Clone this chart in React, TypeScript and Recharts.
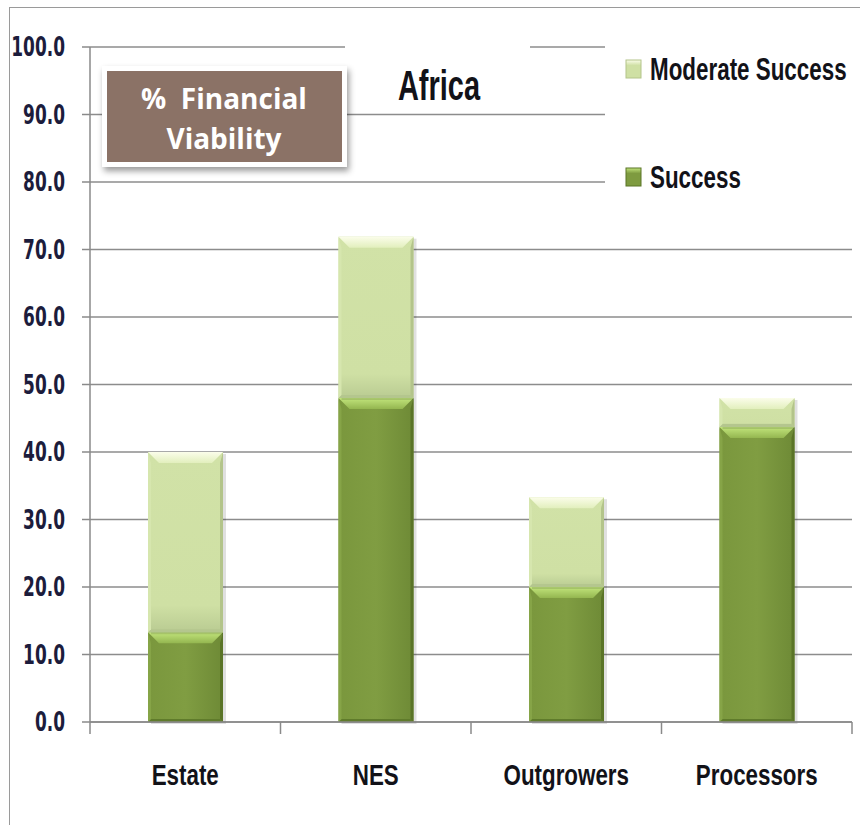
import React from 'react';
import { BarChart, Bar, XAxis, YAxis, CartesianGrid, Legend } from 'recharts';

const categories = ['Estate', 'NES', 'Outgrowers', 'Processors'];
const successValues = [13.3, 48.0, 20.0, 43.7];
const moderateValues = [26.7, 23.9, 13.3, 4.3];
const yTicks = [0, 10, 20, 30, 40, 50, 60, 70, 80, 90, 100];
const seriesNames = { success: 'Success', moderate: 'Moderate Success' };
const chartTitle = 'Africa';
const boxLines = ['%  Financial', 'Viability'];

const data = categories.map((c, i) => ({ name: c, success: successValues[i], moderate: moderateValues[i] }));

const palettes = {
  success: { main: '#7e9b40', dark: '#5a7427', top1: '#c2e57c', top2: '#94b650', bottom: '#5f7b2b', left: '#86a447' },
  moderate: { main: '#cfe0a4', dark: '#b3c48a', top1: '#fbfdea', top2: '#e2efbd', bottom: '#b4c68e', left: '#d6e6ae' },
};

const SANS = "'Liberation Sans', Arial, sans-serif";

function makeShape(key: 'success' | 'moderate') {
  const p = palettes[key];
  return (props: any) => {
    const { x, y, width: w, height: h } = props;
    if (!h || h <= 0) return null;
    const t = Math.min(11, h / 2.5);
    const s = 3;
    return (
      <g>
        <rect x={x + 3} y={y + 2} width={w} height={h} fill="rgba(0,0,0,0.12)" />
        <rect x={x} y={y} width={w} height={h} fill={`url(#grad-${key})`} />
        <polygon points={`${x},${y + h} ${x + w},${y + h} ${x + w - s},${y + h - s} ${x + s},${y + h - s}`} fill={p.bottom} />
        <polygon points={`${x + w},${y} ${x + w},${y + h} ${x + w - s},${y + h - s} ${x + w - s},${y + t}`} fill={p.dark} />
        <polygon points={`${x},${y} ${x},${y + h} ${x + s},${y + h - s} ${x + s},${y + t}`} fill={p.left} />
        <polygon points={`${x},${y} ${x + w},${y} ${x + w - t},${y + t} ${x + t},${y + t}`} fill={`url(#top-${key})`} />
      </g>
    );
  };
}

const SuccessShape = makeShape('success');
const ModerateShape = makeShape('moderate');

const XTick = (props: any) => {
  const { x, y, payload, index, visibleTicksCount } = props;
  const half = payload && payload.offset ? payload.offset : 95.25;
  const last = index === (visibleTicksCount ?? 4) - 1;
  return (
    <g>
      <line x1={x - half} x2={x - half} y1={y} y2={y + 12} stroke="#8a8a8a" strokeWidth={1.5} />
      {last && <line x1={x + half} x2={x + half} y1={y} y2={y + 12} stroke="#8a8a8a" strokeWidth={1.5} />}
      <text transform={`translate(${x},${y + 63}) scale(0.86,1.12)`} x={0} y={0} textAnchor="middle" fill="#121218" fontFamily={SANS} fontWeight="bold" fontSize={26}>
        {payload.value}
      </text>
    </g>
  );
};

const YTick = (props: any) => {
  const { x, y, payload } = props;
  return (
    <text transform={`translate(${x},${y}) scale(1,1.55)`} x={0} y={0} dy="0.36em" textAnchor="end" fill="#1c1c3c" fontFamily="'DejaVu Sans', Verdana, sans-serif" fontWeight="bold" fontSize={17}>
      {Number(payload.value).toFixed(1)}
    </text>
  );
};

const LegendContent = () => {
  const items: Array<'moderate' | 'success'> = ['moderate', 'success'];
  const baselines = [40, 148];
  return (
    <svg width={255} height={170} style={{ background: '#fff', display: 'block' }}>
      <defs>
        {items.map((k) => (
          <linearGradient key={k} id={`leg-${k}`} x1="0" y1="0" x2="0" y2="1">
            <stop offset="0" stopColor={palettes[k].top1} />
            <stop offset="0.3" stopColor={palettes[k].main} />
            <stop offset="1" stopColor={palettes[k].main} />
          </linearGradient>
        ))}
      </defs>
      {items.map((k, i) => (
        <g key={k}>
          <rect x={21} y={baselines[i] - 20} width={15} height={18} fill={`url(#leg-${k})`} stroke={palettes[k].dark} strokeWidth={1} />
          <text transform={`translate(45,${baselines[i]}) scale(0.7,1)`} x={0} y={0} fill="#121218" fontFamily={SANS} fontWeight="bold" fontSize={32}>
            {seriesNames[k]}
          </text>
        </g>
      ))}
    </svg>
  );
};

export default function App() {
  return (
    <div style={{ position: 'absolute', left: 0, top: 0, width: 860, height: 825, background: '#fff', overflow: 'hidden' }}>
      <div style={{ position: 'absolute', left: 9, top: 7, width: 860, height: 840, borderLeft: '1.5px solid #9a9a9a', borderTop: '1.5px solid #9a9a9a', boxSizing: 'border-box' }} />
      <BarChart width={860} height={825} data={data} margin={{ top: 47, right: 8, left: 10, bottom: 63 }} barSize={75}>
        <defs>
          <linearGradient id="grad-success" x1="0" y1="0" x2="1" y2="0">
            <stop offset="0" stopColor="#7a973d" />
            <stop offset="0.5" stopColor="#809d42" />
            <stop offset="1" stopColor="#6e8a36" />
          </linearGradient>
          <linearGradient id="grad-moderate" x1="0" y1="0" x2="0" y2="1">
            <stop offset="0" stopColor="#d1e2a7" />
            <stop offset="0.85" stopColor="#cfe0a4" />
            <stop offset="1" stopColor="#b9cb92" />
          </linearGradient>
          <linearGradient id="top-success" x1="0" y1="0" x2="0" y2="1">
            <stop offset="0" stopColor={palettes.success.top1} />
            <stop offset="1" stopColor={palettes.success.top2} />
          </linearGradient>
          <linearGradient id="top-moderate" x1="0" y1="0" x2="0" y2="1">
            <stop offset="0" stopColor={palettes.moderate.top1} />
            <stop offset="1" stopColor={palettes.moderate.top2} />
          </linearGradient>
        </defs>
        <CartesianGrid vertical={false} stroke="#8c8c8c" strokeWidth={1.5} />
        <XAxis dataKey="name" tick={<XTick />} tickLine={false} tickSize={0} tickMargin={0} interval={0} axisLine={{ stroke: '#8a8a8a', strokeWidth: 1.5 }} height={40} />
        <YAxis
          domain={[0, 100]}
          ticks={yTicks}
          interval={0}
          width={80}
          tick={<YTick />}
          tickSize={8}
          tickMargin={17}
          tickLine={{ stroke: '#8a8a8a', strokeWidth: 1.5 }}
          axisLine={{ stroke: '#8a8a8a', strokeWidth: 1.5 }}
        />
        <Legend layout="horizontal" verticalAlign="middle" align="center" content={<LegendContent />} wrapperStyle={{ left: 605, top: 40, width: 255, height: 170 }} />
        <Bar dataKey="success" name={seriesNames.success} stackId="a" fill={palettes.success.main} shape={SuccessShape} isAnimationActive={false} />
        <Bar dataKey="moderate" name={seriesNames.moderate} stackId="a" fill={palettes.moderate.main} shape={ModerateShape} isAnimationActive={false} />
      </BarChart>
      <svg width={860} height={825} style={{ position: 'absolute', left: 0, top: 0, pointerEvents: 'none' }}>
        <defs>
          <filter id="boxShadow" x="-10%" y="-10%" width="130%" height="140%">
            <feDropShadow dx="2" dy="4" stdDeviation="3" floodColor="#000" floodOpacity="0.4" />
          </filter>
        </defs>
        <rect x={345} y={38} width={185} height={68} fill="#fff" />
        <text transform="translate(439,100) scale(0.69,1.02)" x={0} y={0} textAnchor="middle" fill="#121218" fontFamily={SANS} fontWeight="bold" fontSize={42}>
          {chartTitle}
        </text>
        <rect x={102} y={66} width={245} height={101} fill="#fff" filter="url(#boxShadow)" />
        <rect x={107} y={71} width={235} height={91} fill="#8b7266" />
        <text x={224} y={109} textAnchor="middle" fill="#fff" fontFamily="'Open Sans', Lato, sans-serif" fontWeight="bold" fontSize={28} style={{ whiteSpace: 'pre' }} xmlSpace="preserve">
          {boxLines[0]}
        </text>
        <text x={224} y={149} textAnchor="middle" fill="#fff" fontFamily="'Open Sans', Lato, sans-serif" fontWeight="bold" fontSize={28}>
          {boxLines[1]}
        </text>
      </svg>
    </div>
  );
}
